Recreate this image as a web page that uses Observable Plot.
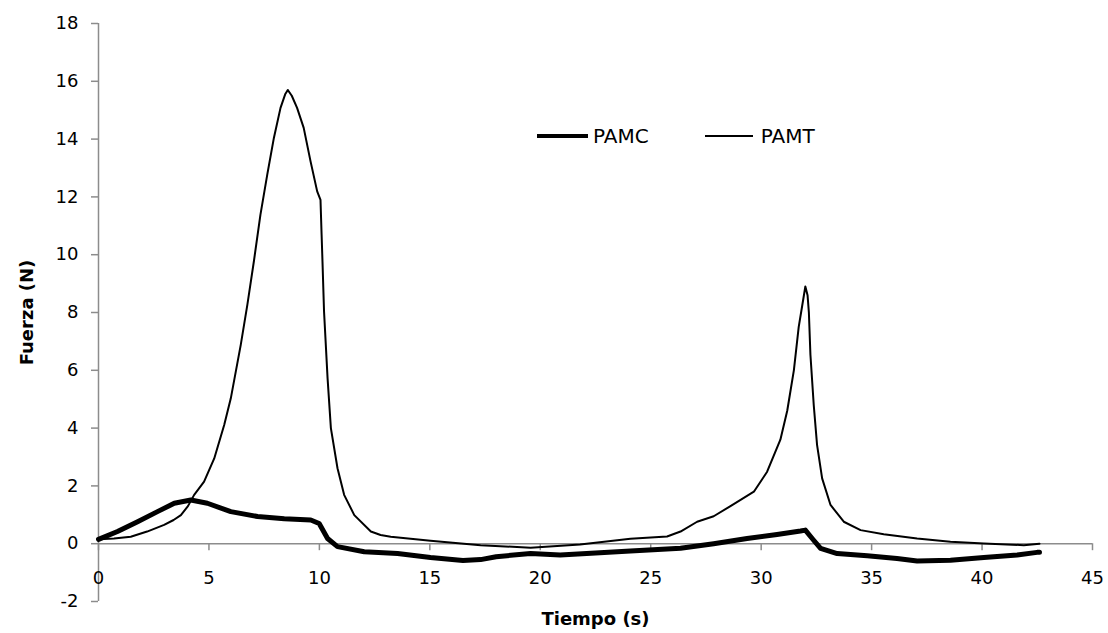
<!DOCTYPE html>
<html>
<head>
<meta charset="utf-8">
<script src="https://cdn.jsdelivr.net/npm/d3@7"></script>
<script src="https://cdn.jsdelivr.net/npm/@observablehq/plot@0.6"></script>
<style>
  body { margin: 0; background: #fff; }
  #wrap { position: relative; width: 1108px; height: 633px; font-family: "DejaVu Sans", Verdana, sans-serif; }
  #legend { position: absolute; left: 537px; top: 124px; height: 24px; display: flex; align-items: center; font-size: 20px; color: #000; }
  .key { display: flex; align-items: center; }
  .sw { display: inline-block; background: #000; }
</style>
</head>
<body>
<div id="wrap">
  <div id="chart"></div>
  <div id="legend">
    <div class="key"><span class="sw" style="width:51px;height:4px;"></span><span style="margin-left:5px">PAMC</span></div>
    <div class="key" style="margin-left:56px"><span class="sw" style="width:48px;height:1.6px;"></span><span style="margin-left:8px">PAMT</span></div>
  </div>
</div>
<script>
// Time (s) and force (N)
const pamtTime = [0, 0.7, 1.46, 2.2, 2.97, 3.4, 3.73, 4.05, 4.33, 4.78, 5.24, 5.69, 5.99, 6.44, 6.74, 7.04, 7.33, 7.64, 7.94, 8.24, 8.45, 8.57, 8.75, 8.99, 9.29, 9.6, 9.9, 10.05, 10.1, 10.14, 10.21, 10.37, 10.52, 10.82, 11.12, 11.58, 12.33, 12.77, 13.23, 15.03, 17.3, 19.56, 21.8, 24.08, 25.74, 26.35, 27.1, 27.85, 28.61, 29.67, 30.27, 30.87, 31.18, 31.48, 31.7, 31.85, 32.0, 32.1, 32.16, 32.23, 32.38, 32.53, 32.76, 33.14, 33.74, 34.5, 35.55, 37.06, 38.57, 40.08, 41.89, 42.6];
const pamtForce = [0.15, 0.18, 0.24, 0.42, 0.65, 0.82, 0.99, 1.3, 1.69, 2.15, 2.95, 4.11, 5.03, 6.88, 8.27, 9.8, 11.38, 12.77, 14.04, 15.08, 15.55, 15.7, 15.5, 15.08, 14.39, 13.23, 12.19, 11.9, 10.7, 9.77, 8.04, 5.73, 4.0, 2.61, 1.69, 0.99, 0.42, 0.3, 0.24, 0.1, -0.05, -0.14, -0.03, 0.17, 0.25, 0.42, 0.76, 0.95, 1.3, 1.8, 2.49, 3.6, 4.6, 6.0, 7.5, 8.2, 8.9, 8.6, 8.0, 6.54, 4.8, 3.42, 2.26, 1.34, 0.76, 0.47, 0.33, 0.18, 0.07, 0.01, -0.05, 0.0];

const pamcTime = [0, 0.86, 1.77, 2.67, 3.43, 4.18, 4.93, 5.99, 7.2, 8.41, 9.61, 9.99, 10.37, 10.82, 12.03, 13.54, 15.03, 16.5, 17.3, 18.0, 19.56, 20.9, 22.5, 24.08, 26.35, 27.85, 29.36, 30.72, 31.78, 32.0, 32.31, 32.69, 33.44, 34.8, 36.15, 37.06, 38.57, 40.08, 41.59, 42.49, 42.6];
const pamcForce = [0.15, 0.42, 0.76, 1.11, 1.4, 1.51, 1.4, 1.11, 0.94, 0.86, 0.82, 0.7, 0.18, -0.1, -0.28, -0.34, -0.48, -0.58, -0.55, -0.45, -0.34, -0.39, -0.32, -0.25, -0.16, 0.0, 0.18, 0.32, 0.44, 0.47, 0.18, -0.16, -0.34, -0.42, -0.51, -0.6, -0.57, -0.48, -0.39, -0.3, -0.3];

const xTicks = [0, 5, 10, 15, 20, 25, 30, 35, 40, 45];
const yTicks = [-2, 0, 2, 4, 6, 8, 10, 12, 14, 16, 18];
const xLabel = "Tiempo (s)";
const yLabel = "Fuerza (N)";

const pamt = pamtTime.map((t, i) => ({t, f: pamtForce[i]}));
const pamc = pamcTime.map((t, i) => ({t, f: pamcForce[i]}));

const axisColor = "#8c8c8c";

const chart = Plot.plot({
  width: 1108,
  height: 633,
  marginLeft: 98,
  marginRight: 16,
  marginTop: 23,
  marginBottom: 32,
  style: {fontFamily: "DejaVu Sans, Verdana, sans-serif", fontSize: "18px", color: "#000", background: "#fff"},
  x: {domain: [0, 45], axis: null},
  y: {domain: [-2, 18], axis: null},
  marks: [
    // y axis
    Plot.ruleX([0], {stroke: axisColor, strokeWidth: 1.5}),
    Plot.axisY(yTicks, {tickSize: 7, tickPadding: 13, stroke: axisColor, strokeWidth: 1.5, fill: "#000", fontSize: 18, tickFormat: d => String(d), label: null}),
    // x axis at y = 0
    Plot.ruleY([0], {stroke: axisColor, strokeWidth: 1.5}),
    Plot.ruleX(xTicks, {x: d => d, y1: 0, y2: 0, insetBottom: -7, stroke: axisColor, strokeWidth: 1.5}),
    Plot.text(xTicks, {x: d => d, y: 0, dy: 35, text: d => String(d), fontSize: 18, fill: "#000"}),
    // axis titles
    Plot.text([xLabel], {frameAnchor: "bottom", textAnchor: "middle", lineAnchor: "middle", dy: 18, text: d => d, fontWeight: "bold", fontSize: 18, fill: "#000"}),
    Plot.text([yLabel], {frameAnchor: "left", textAnchor: "middle", lineAnchor: "middle", dx: -71, rotate: -90, text: d => d, fontWeight: "bold", fontSize: 18, fill: "#000"}),
    // series
    Plot.line(pamt, {x: "t", y: "f", stroke: "#000", strokeWidth: 2, strokeLinejoin: "round"}),
    Plot.line(pamc, {x: "t", y: "f", stroke: "#000", strokeWidth: 5, strokeLinejoin: "round"})
  ]
});
document.getElementById("chart").appendChild(chart);
</script>
</body>
</html>
